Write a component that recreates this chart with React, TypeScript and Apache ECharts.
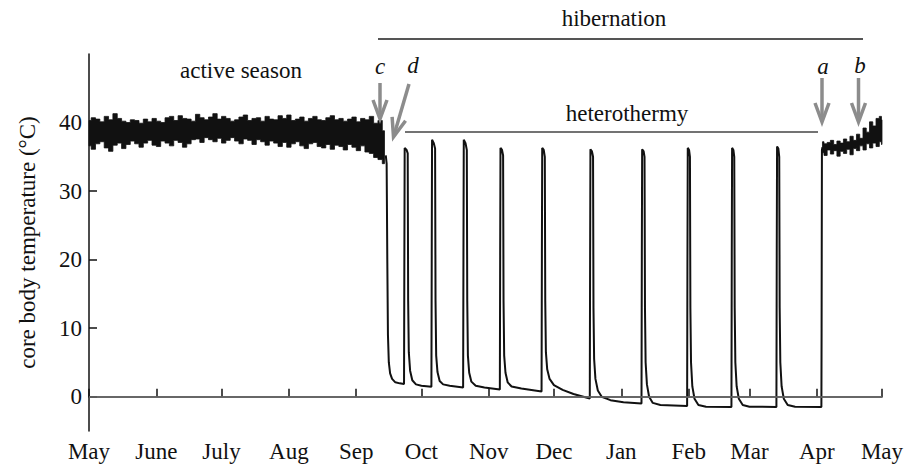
import React, { useEffect, useRef } from "react";
import * as echarts from "echarts";

// ---- axes ----
const monthDays = [0, 31, 61, 92, 123, 153, 184, 214, 245, 276, 304, 335, 365];
const monthLabels = ["May", "June", "July", "Aug", "Sep", "Oct", "Nov", "Dec", "Jan", "Feb", "Mar", "Apr", "May"];
const tempTicks = [0, 10, 20, 30, 40];

// ---- active season (days since 1 May): envelope of the noisy trace ----
const activeDays = [0, 2, 4, 6, 8, 10, 12, 14, 16, 18, 20, 22, 24, 26, 28, 30, 32, 34, 36, 38, 40, 42, 44, 46, 48, 50, 52, 54, 56, 58, 60, 62, 64, 66, 68, 70, 72, 74, 76, 78, 80, 82, 84, 86, 88, 90, 92, 94, 96, 98, 100, 102, 104, 106, 108, 110, 112, 114, 116, 118, 120, 122, 124, 126, 128, 130, 132, 134, 136];
const activeUpper = [40.3, 40.7, 40.5, 40.1, 40.9, 40.4, 41.3, 40.6, 40.2, 40.0, 40.4, 40.3, 39.9, 40.5, 40.1, 40.6, 40.2, 40.0, 40.7, 40.9, 40.3, 41.0, 40.6, 40.5, 40.2, 41.2, 40.7, 40.4, 40.8, 41.3, 40.5, 40.9, 40.6, 40.2, 40.4, 40.8, 41.1, 40.3, 40.6, 40.7, 40.2, 40.9, 40.5, 40.4, 41.0, 40.6, 41.1, 40.3, 40.5, 40.8, 40.2, 40.6, 40.9, 40.4, 40.3, 40.7, 41.0, 40.4, 40.6, 40.2, 40.5, 40.8, 40.1, 40.6, 40.4, 40.9, 39.9, 40.3, 38.8];
const activeLower = [36.6, 36.1, 36.9, 37.2, 36.3, 35.8, 36.7, 37.0, 36.2, 36.8, 37.3, 36.9, 36.4, 37.0, 37.4, 36.7, 36.5, 37.3, 37.0, 36.6, 37.4, 37.1, 36.4, 36.9, 37.5, 37.6, 37.1, 37.8, 37.5, 37.2, 37.7, 37.0, 37.4, 37.8, 37.3, 36.9, 37.6, 37.4, 36.8, 37.5, 37.2, 36.7, 37.3, 37.0, 36.5, 37.1, 36.4, 36.9, 37.2, 36.6, 36.2, 36.9, 37.1, 36.5, 36.3, 36.8, 36.1, 36.7, 36.5, 36.0, 36.8, 36.4, 35.9, 36.6, 35.7, 35.5, 34.9, 34.6, 34.0];

// ---- hibernation: torpor bouts and arousals [day, °C] ----
const torporTrace: [number, number][] = [
  [136.6, 35.2], [137.0, 34.0], [137.3, 20.0], [137.6, 9.0], [138.0, 5.0], [138.6, 3.4], [139.5, 2.6], [141, 2.1], [143, 1.95], [145.0, 1.85],
  [145.15, 20], [145.3, 36.3], [146.2, 36.0], [146.7, 35.5], [146.9, 14], [147.2, 6.5], [147.8, 3.8], [148.8, 2.4], [150.5, 1.8], [153, 1.6], [157.6, 1.45],
  [157.75, 20], [157.9, 37.5], [158.7, 37.0], [159.3, 36.2], [159.5, 14], [159.8, 6], [160.4, 3.6], [161.4, 2.3], [163, 1.8], [166, 1.6], [172.2, 1.35],
  [172.35, 20], [172.5, 37.5], [173.3, 37.0], [173.9, 36.0], [174.1, 14], [174.4, 6], [175.0, 3.5], [176.0, 2.2], [178, 1.6], [182, 1.35], [189.1, 1.05],
  [189.25, 20], [189.4, 36.3], [190.1, 36.0], [190.6, 35.2], [190.8, 14], [191.1, 6], [191.7, 3.5], [192.7, 2.1], [194.5, 1.5], [199, 1.2], [208.3, 0.75],
  [208.45, 20], [208.6, 36.3], [209.3, 36.0], [209.8, 35.0], [210.0, 14], [210.3, 6.5], [210.9, 4.0], [212, 2.6], [214, 1.7], [218, 1.0], [223, 0.4], [230.5, -0.25],
  [230.65, 20], [230.8, 36.1], [231.5, 35.8], [232.0, 35.0], [232.2, 13], [232.5, 5.5], [233.1, 2.6], [234.2, 0.9], [236, 0.0], [240, -0.5], [246, -0.8], [254.3, -1.0],
  [254.45, 20], [254.6, 36.1], [255.3, 35.8], [255.7, 35.0], [255.9, 13], [256.2, 5], [256.8, 1.8], [257.8, 0.0], [259.5, -0.9], [263, -1.2], [275.3, -1.35],
  [275.45, 20], [275.6, 36.3], [276.2, 36.0], [276.6, 35.0], [276.8, 13], [277.1, 5], [277.7, 1.5], [278.7, -0.3], [280.5, -1.2], [284, -1.45], [295.7, -1.5],
  [295.85, 20], [296.0, 36.3], [296.6, 36.0], [297.0, 35.0], [297.2, 13], [297.5, 5], [298.1, 1.5], [299.1, -0.3], [300.9, -1.2], [304, -1.45], [316.4, -1.5],
  [316.55, 20], [316.7, 36.5], [317.3, 36.2], [317.7, 35.0], [317.9, 13], [318.2, 5], [318.8, 1.5], [319.8, -0.3], [321.6, -1.2], [325, -1.45], [337.1, -1.5],
  [337.2, 10], [337.35, 36.0], [337.6, 36.4],
];

// ---- after final arousal: envelope of the noisy trace ----
const springDays = [337.6, 339, 340.5, 342, 343.5, 345, 346.5, 348, 349.5, 351, 352.5, 354, 355.5, 357, 358.5, 360, 361.5, 363, 364.5, 365];
const springUpper = [37.2, 36.9, 37.1, 37.4, 36.8, 37.3, 37.0, 37.6, 37.2, 38.0, 37.4, 38.3, 37.7, 39.2, 38.6, 40.1, 39.5, 40.6, 40.9, 40.4];
const springLower = [35.6, 35.2, 36.0, 35.4, 35.9, 35.1, 35.8, 35.5, 36.1, 35.3, 36.2, 35.9, 36.6, 36.0, 36.9, 36.3, 37.0, 36.5, 37.2, 36.8];

const FONT = "'Liberation Serif', 'Times New Roman', serif";
const FS = 23;
const INK = "#111111";
const ARROW = "#8c8c8c";

// Band series: stepped polygon between lower and upper envelopes, drawn through the chart's scales
function bandSeries(days: number[], upper: number[], lower: number[]) {
  return {
    type: "custom",
    coordinateSystem: "cartesian2d",
    silent: true,
    z: 3,
    data: [[days[0], lower[0]]],
    renderItem: (_params: any, api: any) => {
      const n = days.length;
      const edges = (i: number) => [
        i === 0 ? days[0] : (days[i - 1] + days[i]) / 2,
        i === n - 1 ? days[n - 1] : (days[i] + days[i + 1]) / 2,
      ];
      const pts: number[][] = [];
      for (let i = 0; i < n; i++) {
        const [a, b] = edges(i);
        pts.push(api.coord([a, upper[i]]), api.coord([b, upper[i]]));
      }
      for (let i = n - 1; i >= 0; i--) {
        const [a, b] = edges(i);
        pts.push(api.coord([b, lower[i]]), api.coord([a, lower[i]]));
      }
      return {
        type: "polygon",
        shape: { points: pts },
        style: { fill: INK, stroke: INK, lineWidth: 0.8 },
      };
    },
  };
}

function arrow(x1: number, y1: number, x2: number, y2: number) {
  const dx = x2 - x1, dy = y2 - y1;
  const L = Math.hypot(dx, dy);
  const ux = dx / L, uy = dy / L;
  const px = -uy, py = ux;
  const bx = x2 - ux * 19, by = y2 - uy * 19;
  return [
    { type: "line", silent: true, z: 10, shape: { x1, y1, x2: x2 - ux * 3, y2: y2 - uy * 3 }, style: { stroke: ARROW, lineWidth: 3.5 } },
    {
      type: "polyline", silent: true, z: 10,
      shape: { points: [[bx + px * 7, by + py * 7], [x2, y2], [bx - px * 7, by - py * 7]] },
      style: { stroke: ARROW, lineWidth: 3.5, fill: null },
    },
  ];
}

function text(t: string, x: number, y: number, italic = false) {
  return {
    type: "text", silent: true, x, y, z: 10,
    style: { text: t, fill: INK, font: `${italic ? "italic " : ""}${FS}px ${FONT}`, align: "center", verticalAlign: "middle" },
  };
}

export default function App() {
  const ref = useRef<HTMLDivElement>(null);
  useEffect(() => {
    if (!ref.current) return;
    const chart = echarts.init(ref.current, null, { renderer: "svg" });
    const axisCommon = {
      axisLine: { show: true, lineStyle: { color: INK, width: 1.5 } },
      axisTick: { show: true, inside: true, length: 8, lineStyle: { color: INK, width: 1.5 } },
      splitLine: { show: false },
    };
    chart.setOption({
      animation: false,
      backgroundColor: "#ffffff",
      grid: { left: 89, right: 22, top: 54, bottom: 37, containLabel: false, outerBoundsMode: "none" },
      xAxis: {
        type: "value", min: 0, max: 365,
        ...axisCommon,
        axisTick: { ...axisCommon.axisTick, customValues: monthDays },
        axisLabel: {
          customValues: monthDays, margin: 9, color: INK, fontSize: FS, fontFamily: FONT,
          formatter: (v: number) => monthLabels[monthDays.indexOf(v)] ?? "",
        },
      },
      yAxis: {
        type: "value", min: -5, max: 50,
        ...axisCommon,
        axisTick: { ...axisCommon.axisTick, customValues: tempTicks },
        axisLabel: { customValues: tempTicks, margin: 7, color: INK, fontSize: FS, fontFamily: FONT },
        name: "core body temperature (°C)",
        nameLocation: "middle", nameRotate: 90, nameGap: 50,
        nameTextStyle: { color: INK, fontSize: FS, fontFamily: FONT },
      },
      series: [
        {
          type: "line", symbol: "none", silent: true, z: 2,
          data: torporTrace,
          lineStyle: { color: INK, width: 2 },
          markLine: {
            silent: true, symbol: "none", label: { show: false },
            lineStyle: { color: "#707070", width: 1.5, type: "solid" },
            data: [{ yAxis: 0 }],
          },
        },
        bandSeries(activeDays, activeUpper, activeLower),
        bandSeries(springDays, springUpper, springLower),
      ],
      graphic: [
        text("active season", 241, 70),
        text("hibernation", 614, 18),
        { type: "line", silent: true, shape: { x1: 378, y1: 39, x2: 863, y2: 39 }, style: { stroke: "#555555", lineWidth: 2 } },
        text("heterothermy", 627, 113),
        { type: "line", silent: true, shape: { x1: 405, y1: 132, x2: 818, y2: 132 }, style: { stroke: "#444444", lineWidth: 1.5 } },
        text("c", 380, 66, true),
        text("d", 413, 65, true),
        text("a", 823, 66, true),
        text("b", 860, 65, true),
        ...arrow(380, 83, 380, 119),
        ...arrow(409, 84, 393.5, 137),
        ...arrow(822, 78, 822, 122),
        ...arrow(858.5, 78, 858.5, 122),
      ],
    });
    return () => chart.dispose();
  }, []);
  return <div ref={ref} style={{ position: "fixed", left: 0, top: 0, width: 904, height: 468 }} />;
}
